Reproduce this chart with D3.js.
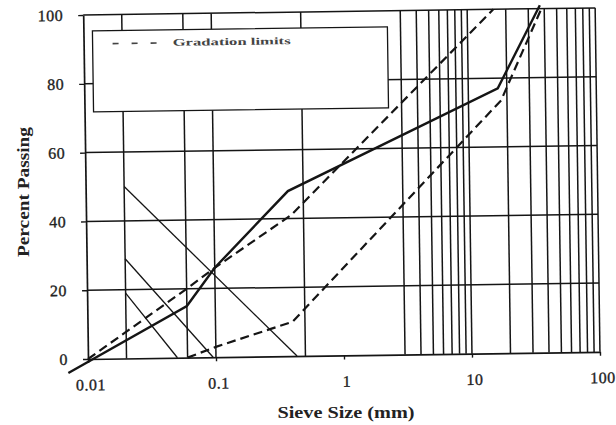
<!DOCTYPE html>
<html>
<head>
<meta charset="utf-8">
<script src="https://cdn.jsdelivr.net/npm/d3@7"></script>
<style>
  body { margin: 0; background: #fff; }
  svg { font-family: "Liberation Serif", "Times New Roman", serif; }
</style>
</head>
<body>
<div class="chart"></div>
<script>
// sieve sizes (mm) on a log axis, percent passing on the y axis
const tickSizes = [0.01, 0.1, 1, 10, 100]
const tickPassing = [0, 20, 40, 60, 80, 100]
const gridSizes = [0.02, 0.06, 0.1, 0.5, 3, 4, 5, 6, 7, 8, 9, 10, 20, 30, 40, 50, 60, 70, 80, 90, 100]
const gridPassing = [20, 40, 60, 80, 100]

const gradationSize = [0.007, 0.06, 0.1, 0.38, 17, 37]
const gradationPassing = [-4, 15, 26, 48, 77, 101]

const upperSize = [0.01, 0.06, 0.1, 0.4, 16]
const upperPassing = [0, 20, 26, 41, 100]

const lowerSize = [0.06, 0.1, 0.4, 18, 38]
const lowerPassing = [0, 3, 10, 73.5, 100]

// the three thin straight lines in the fine part
const thinStartSize = [0.02, 0.02, 0.02]
const thinStartPassing = [50, 29, 19]
const thinEndSize = [0.43, 0.095, 0.05]

const legendLabel = "Gradation limits"

function drawChart() {
    const width = 616, height = 425
    const left = 88, right = 600, top = 15, bottom = 359
    const ink = "#151515"

    const x = d3.scaleLog().domain([0.01, 100]).range([left, right])
    const y = d3.scaleLinear().domain([0, 100]).range([bottom, top])

    const svg = d3.select(".chart")
        .append("svg")
        .attr("width", width)
        .attr("height", height)

    // the scan is a little skewed, so the whole plot is turned slightly
    const g = svg.append("g")
        .attr("transform", `rotate(-0.8, ${left}, ${bottom})`)

    g.selectAll(".vgrid")
        .data(gridSizes)
        .enter().append("line")
        .attr("class", "vgrid")
        .attr("x1", d => x(d)).attr("x2", d => x(d))
        .attr("y1", y(0)).attr("y2", y(100))
        .attr("stroke", ink)
        .attr("stroke-width", 1.5)

    g.selectAll(".hgrid")
        .data(gridPassing)
        .enter().append("line")
        .attr("class", "hgrid")
        .attr("x1", left).attr("x2", right)
        .attr("y1", d => y(d)).attr("y2", d => y(d))
        .attr("stroke", ink)
        .attr("stroke-width", 1.5)

    // legend box sits on top of the grid
    const legend = g.append("g")
    legend.append("rect")
        .attr("x", 97).attr("y", 31)
        .attr("width", 295).attr("height", 81)
        .attr("fill", "#fff")
        .attr("stroke", ink)
        .attr("stroke-width", 1.3)
    legend.append("line")
        .attr("x1", 117).attr("x2", 165)
        .attr("y1", 44).attr("y2", 44)
        .attr("stroke", "#444")
        .attr("stroke-width", 1.6)
        .attr("stroke-dasharray", "6,13")
    legend.append("text")
        .attr("x", 177).attr("y", 47)
        .attr("font-size", 10)
        .attr("font-weight", "bold")
        .attr("fill", "#444")
        .attr("textLength", 118)
        .attr("lengthAdjust", "spacingAndGlyphs")
        .text(legendLabel)

    const yAxis = g.append("g")
        .attr("transform", `translate(${left},0)`)
        .call(d3.axisLeft(y).tickValues(tickPassing).tickSize(5).tickSizeOuter(0).tickPadding(15))
    yAxis.select(".domain").attr("stroke", ink).attr("stroke-width", 1.7)
    yAxis.selectAll(".tick line").attr("stroke", ink).attr("stroke-width", 1.4)
    yAxis.selectAll("text")
        .attr("font-family", "Liberation Serif")
        .attr("font-size", 16)
        .attr("letter-spacing", 0.5)
        .attr("fill", "#222")
        .attr("stroke", "#222")
        .attr("stroke-width", 0.35)

    const xAxis = g.append("g")
        .attr("transform", `translate(0,${bottom})`)
        .call(d3.axisBottom(x).tickValues(tickSizes).tickFormat(d3.format("~g")).tickSize(4).tickSizeOuter(0).tickPadding(16))
    xAxis.select(".domain").attr("stroke", ink).attr("stroke-width", 1.7)
    xAxis.selectAll(".tick line").attr("stroke", ink).attr("stroke-width", 1.4)
    xAxis.selectAll("text")
        .attr("font-family", "Liberation Serif")
        .attr("font-size", 16)
        .attr("letter-spacing", 0.5)
        .attr("dx", 2)
        .attr("fill", "#222")
        .attr("stroke", "#222")
        .attr("stroke-width", 0.35)

    const line = d3.line()
        .x(d => x(d[0]))
        .y(d => y(d[1]))

    g.selectAll(".thin")
        .data(thinStartSize.map((s, i) => [[s, thinStartPassing[i]], [thinEndSize[i], 0]]))
        .enter().append("path")
        .attr("class", "thin")
        .attr("d", line)
        .attr("fill", "none")
        .attr("stroke", ink)
        .attr("stroke-width", 1.3)

    g.append("path")
        .datum(upperSize.map((s, i) => [s, upperPassing[i]]))
        .attr("d", line)
        .attr("fill", "none")
        .attr("stroke", ink)
        .attr("stroke-width", 2.2)
        .attr("stroke-dasharray", "9,5")

    g.append("path")
        .datum(lowerSize.map((s, i) => [s, lowerPassing[i]]))
        .attr("d", line)
        .attr("fill", "none")
        .attr("stroke", ink)
        .attr("stroke-width", 2.2)
        .attr("stroke-dasharray", "9,5")

    g.append("path")
        .datum(gradationSize.map((s, i) => [s, gradationPassing[i]]))
        .attr("d", line)
        .attr("fill", "none")
        .attr("stroke", ink)
        .attr("stroke-width", 2.4)

    svg.append("text")
        .attr("transform", "translate(29,192) rotate(-90)")
        .attr("text-anchor", "middle")
        .attr("font-size", 16)
        .attr("font-weight", "bold")
        .attr("fill", "#222")
        .attr("textLength", 130)
        .attr("lengthAdjust", "spacingAndGlyphs")
        .text("Percent Passing")

    svg.append("text")
        .attr("x", 346).attr("y", 418)
        .attr("text-anchor", "middle")
        .attr("font-size", 16)
        .attr("font-weight", "bold")
        .attr("fill", "#222")
        .attr("textLength", 137)
        .attr("lengthAdjust", "spacingAndGlyphs")
        .text("Sieve Size (mm)")
}

drawChart()
</script>
</body>
</html>
